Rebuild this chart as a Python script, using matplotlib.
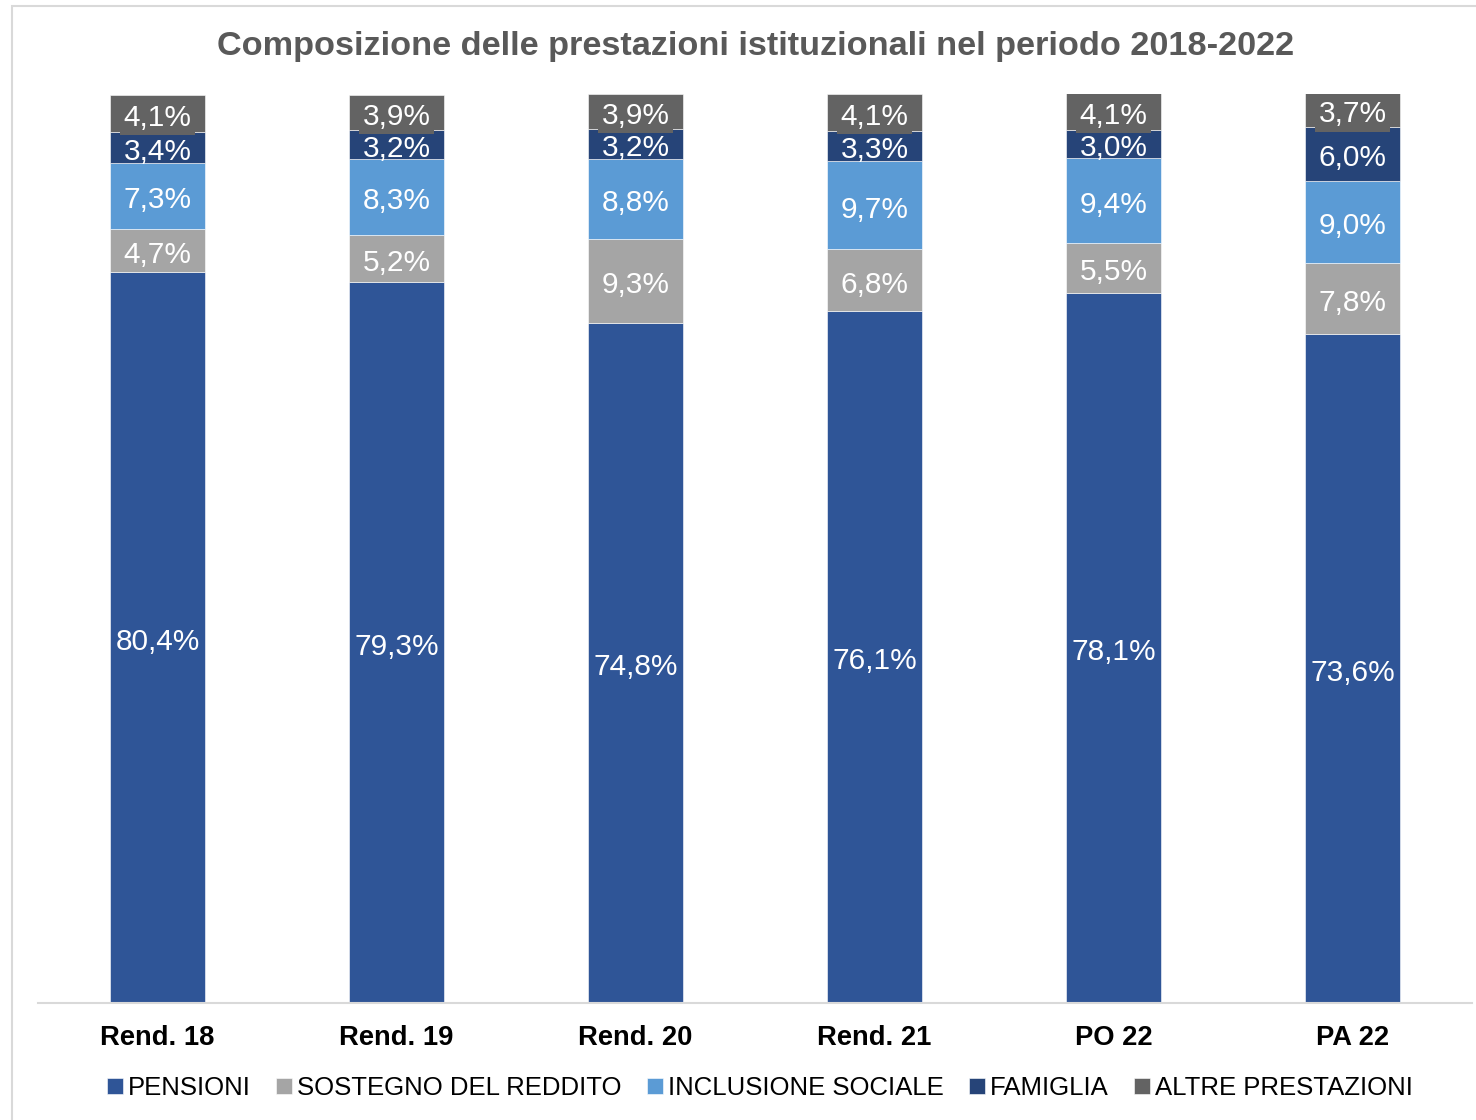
import numpy as np
import matplotlib.pyplot as plt
from matplotlib.patches import Rectangle

plt.rcParams['font.family'] = ['Liberation Sans', 'DejaVu Sans']

categories = ["Rend. 18", "Rend. 19", "Rend. 20", "Rend. 21", "PO 22", "PA 22"]
series_names = ["PENSIONI", "SOSTEGNO DEL REDDITO", "INCLUSIONE SOCIALE",
                "FAMIGLIA", "ALTRE PRESTAZIONI"]
pensioni = [80.4, 79.3, 74.8, 76.1, 78.1, 73.6]
sostegno = [4.7, 5.2, 9.3, 6.8, 5.5, 7.8]
inclusione = [7.3, 8.3, 8.8, 9.7, 9.4, 9.0]
famiglia = [3.4, 3.2, 3.2, 3.3, 3.0, 6.0]
altre = [4.1, 3.9, 3.9, 4.1, 4.1, 3.7]

colors = ["#2F5597", "#A5A5A5", "#5B9BD5", "#264478", "#636363"]

W, H = 1476, 1120
fig = plt.figure(figsize=(W / 100, H / 100), dpi=100)

# outer frame of the chart area (cut off on right/bottom)
fig.patches.append(Rectangle((12 / W, -0.01), 1.0, 1 - 6 / H + 0.01,
                             transform=fig.transFigure, fill=False,
                             edgecolor="#D9D9D9", linewidth=1.5))

ax_l, ax_r, ax_b, ax_t = 38, 1472, 1003, 94
ax = fig.add_axes([ax_l / W, 1 - ax_b / H, (ax_r - ax_l) / W, (ax_b - ax_t) / H])

x = np.arange(len(categories))
bottom = np.zeros(len(categories))
all_series = [pensioni, sostegno, inclusione, famiglia, altre]
for i, (name, vals) in enumerate(zip(series_names, all_series)):
    vals = np.array(vals)
    ax.bar(x, vals, width=0.40, bottom=bottom, color=colors[i], label=name,
           edgecolor="white", linewidth=0.4)
    for xi, b, v in zip(x, bottom, vals):
        txt = f"{v:.1f}%".replace(".", ",")
        kw = {}
        if i == 4:
            kw["bbox"] = dict(boxstyle="square,pad=0.12", facecolor=colors[4],
                              edgecolor="none")
        ax.annotate(txt, (xi, b + v / 2), xytext=(0, -3), textcoords="offset points",
                    ha="center", va="center", color="white",
                    fontsize=21.5, annotation_clip=False, **kw)
    bottom += vals

ax.set_xlim(-0.5, len(categories) - 0.5)
ax.set_ylim(0, 100)
ax.set_yticks([])
ax.set_xticks(x)
ax.set_xticklabels(categories, fontsize=19.7, fontweight="bold", color="black")
ax.tick_params(axis="x", length=0, pad=16)
for s in ["top", "right", "left"]:
    ax.spines[s].set_visible(False)
ax.spines["bottom"].set_color("#D9D9D9")
ax.spines["bottom"].set_linewidth(1.5)

fig.text(756 / W, 1 - 47 / H, "Composizione delle prestazioni istituzionali nel periodo 2018-2022",
         ha="center", va="center", fontsize=24.7, fontweight="bold", color="#595959")

handles, labels = ax.get_legend_handles_labels()
fig.legend(handles, labels, loc="center", bbox_to_anchor=(760 / W, 1 - 1088 / H),
           ncol=5, frameon=False, fontsize=18.5, handlelength=0.6, handleheight=0.6,
           handletextpad=0.2, columnspacing=1.0, borderpad=0)

fig.savefig("out.png", dpi=100)
